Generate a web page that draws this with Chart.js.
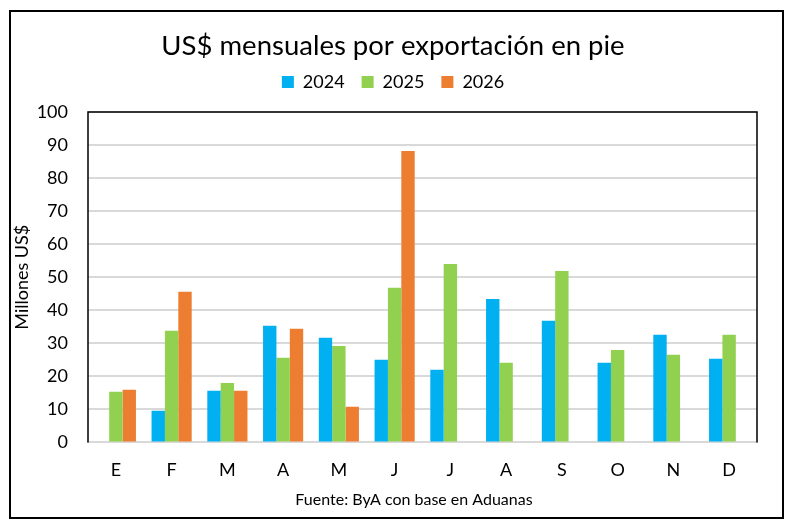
<!DOCTYPE html>
<html>
<head>
<meta charset="utf-8">
<script src="https://cdn.jsdelivr.net/npm/chart.js@4"></script>
<style>
body{margin:0;background:#fff;}
#marco{position:absolute;left:9px;top:10px;width:771px;height:505px;border:2px solid #000;background:#fff;}
</style>
</head>
<body>
<div id="marco"><canvas id="grafico" width="771" height="505"></canvas></div>
<script>
// datos (millones de US$)
var meses = ['E','F','M','A','M','J','J','A','S','O','N','D'];
var v2024 = [null, 9.6, 15.6, 35.3, 31.7, 25.0, 22.0, 43.4, 36.8, 24.1, 32.6, 25.3];
var v2025 = [15.3, 33.8, 18.0, 25.6, 29.2, 46.8, 54.0, 24.1, 51.9, 28.0, 26.5, 32.6];
var v2026 = [15.9, 45.6, 15.6, 34.4, 10.8, 88.2, null, null, null, null, null, null];
var ticksY = [0,10,20,30,40,50,60,70,80,90,100];
var textoFuente = 'Fuente: ByA con base en Aduanas';

var fuente = 'Lato';

// marco negro del area de trazado (izq, arriba, der) y nota de fuente
var marcoArea = {
  id: 'marcoArea',
  afterDraw: function(chart){
    var ctx = chart.ctx, a = chart.chartArea;
    ctx.save();
    ctx.strokeStyle = '#000';
    ctx.lineWidth = 1.5;
    ctx.beginPath();
    ctx.moveTo(a.left, a.bottom);
    ctx.lineTo(a.left, a.top);
    ctx.lineTo(a.right, a.top);
    ctx.lineTo(a.right, a.bottom);
    ctx.stroke();
    // la fuente va un poco corrida a la derecha, como en el original
    ctx.fillStyle = '#000';
    ctx.font = '16px ' + fuente;
    ctx.textAlign = 'center';
    ctx.textBaseline = 'middle';
    ctx.fillText(textoFuente, 403, chart.height - 17);
    ctx.restore();
  }
};

// un poco mas de aire debajo de la leyenda
var espacioLeyenda = {
  id: 'espacioLeyenda',
  beforeInit: function(chart){
    var fitOrig = chart.legend.fit;
    chart.legend.fit = function(){
      fitOrig.bind(chart.legend)();
      this.height += 11;
    };
  }
};

var ctx = document.getElementById('grafico').getContext('2d');
var chart = new Chart(ctx, {
  type: 'bar',
  data: {
    labels: meses,
    datasets: [
      {label: '2024', data: v2024, backgroundColor: '#00B0F0'},
      {label: '2025', data: v2025, backgroundColor: '#92D050'},
      {label: '2026', data: v2026, backgroundColor: '#ED7D31'}
    ]
  },
  options: {
    responsive: false,
    animation: false,
    layout: {padding: {left: 18, right: 25, top: 0, bottom: 19}},
    datasets: {bar: {barPercentage: 1, categoryPercentage: 0.72}},
    plugins: {
      title: {
        display: true,
        text: 'US$ mensuales por exportación en pie',
        color: '#000',
        font: {family: fuente, size: 27.5, weight: 'normal'},
        padding: {top: 18, bottom: -7}
      },
      legend: {
        display: true,
        labels: {
          color: '#000',
          font: {family: fuente, size: 18},
          boxWidth: 12,
          boxHeight: 12,
          padding: 17
        }
      },
      tooltip: {enabled: false}
    },
    scales: {
      x: {
        grid: {display: false, drawTicks: false},
        border: {color: '#d9d9d9', width: 2},
        ticks: {color: '#000', font: {family: fuente, size: 18}, padding: 17}
      },
      y: {
        min: 0,
        max: 100,
        afterBuildTicks: function(axis){ axis.ticks = ticksY.map(function(v){ return {value: v}; }); },
        afterFit: function(axis){ axis.width = 59; },
        grid: {color: '#d9d9d9', lineWidth: 2, drawTicks: false},
        border: {display: false},
        ticks: {color: '#000', font: {family: fuente, size: 18}, padding: 20},
        title: {
          display: true,
          text: 'Millones US$',
          color: '#000',
          font: {family: fuente, size: 18},
          padding: {top: -18, bottom: 0}
        }
      }
    }
  },
  plugins: [marcoArea, espacioLeyenda]
});
</script>
</body>
</html>
